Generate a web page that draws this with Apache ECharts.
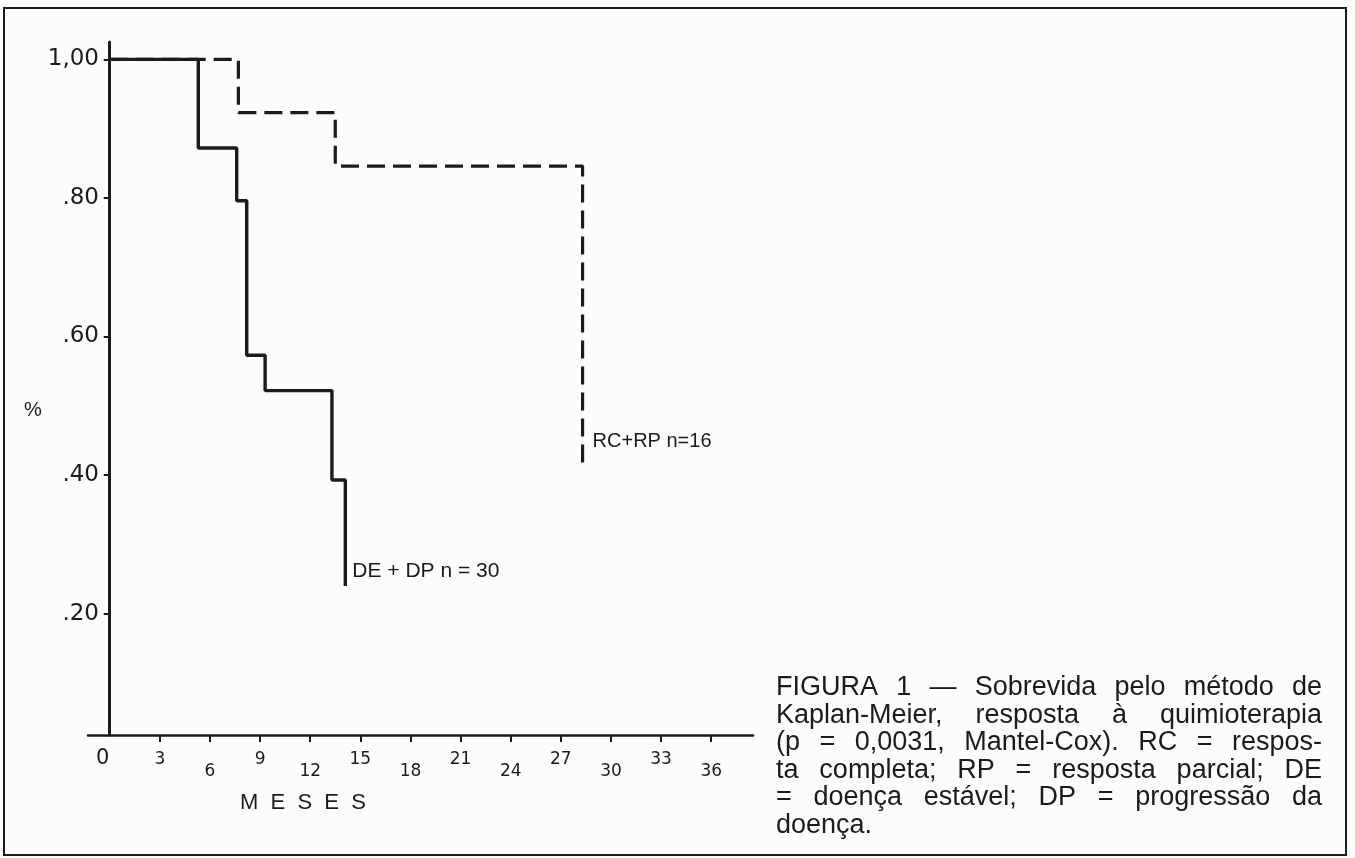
<!DOCTYPE html>
<html>
<head>
<meta charset="utf-8">
<script src="https://cdn.jsdelivr.net/npm/echarts@6/dist/echarts.min.js"></script>
<style>
html,body{margin:0;padding:0;background:#fcfcfa;}
#chart{width:1355px;height:858px;}
</style>
</head>
<body>
<div id="chart"></div>
<script>
// ---- data ----
const xTicks = [0, 3, 6, 9, 12, 15, 18, 21, 24, 27, 30, 33, 36];
const yTicks = [0.2, 0.4, 0.6, 0.8, 1.0];
const yTickLabels = ['.20', '.40', '.60', '.80', '1,00'];
const seriesNames = ['DE + DP n = 30', 'RC+RP n=16'];
const deDpTimes = [0, 5.3, 7.6, 8.2, 9.3, 13.3, 14.1];
const deDpSurv  = [1.00, 0.872, 0.796, 0.573, 0.522, 0.393, 0.240];
const rcRpTimes = [0, 7.7, 13.5, 28.3];
const rcRpSurv  = [1.00, 0.923, 0.846, 0.412];
const xAxisTitle = 'M  E  S  E  S';
const yAxisTitle = '%';
const captionLines = [
  'FIGURA 1 — Sobrevida pelo método de',
  'Kaplan-Meier, resposta à quimioterapia',
  '(p = 0,0031, Mantel-Cox). RC = respos-',
  'ta completa; RP = resposta parcial; DE',
  '= doença estável; DP = progressão da',
  'doença.'
];

const INK = '#1b1b1b';
const FONT = '"Liberation Sans", Arial, sans-serif';
const FONT_AX = '"DejaVu Sans", sans-serif';

function pairs(xs, ys) { return xs.map((x, i) => [x, ys[i]]); }

// ---- justified caption ----
function captionGraphics() {
  const out = [];
  const fs = 27, left = 776, right = 1322, top = 688, lh = 27.5;
  const ctx = document.createElement('canvas').getContext('2d');
  ctx.font = fs + 'px ' + FONT;
  const W = right - left;
  captionLines.forEach((line, i) => {
    const words = line.split(' ');
    const ws = words.map(w => ctx.measureText(w).width);
    const sum = ws.reduce((a, b) => a + b, 0);
    const last = i === captionLines.length - 1;
    const gap = (!last && words.length > 1) ? (W - sum) / (words.length - 1) : ctx.measureText(' ').width;
    let x = left;
    words.forEach((w, k) => {
      out.push({
        type: 'text', x: x, y: top + i * lh, z: 10,
        style: { text: w, fontSize: fs, fontFamily: FONT, fill: INK,
                 align: 'left', textAlign: 'left', verticalAlign: 'middle', textVerticalAlign: 'middle' }
      });
      x += ws[k] + gap;
    });
  });
  return out;
}

const chart = echarts.init(document.getElementById('chart'), null, { renderer: 'canvas' });

const option = {
  animation: false,
  backgroundColor: '#fcfcfa',
  grid: { left: 88, top: 42, width: 665, height: 693, containLabel: false },
  xAxis: {
    type: 'value', min: -1.3, max: 38.5,
    splitLine: { show: false },
    axisLine: { show: true, onZero: true, lineStyle: { color: INK, width: 2.5 } },
    axisTick: { show: true, customValues: xTicks.slice(1), length: 7, lineStyle: { color: INK, width: 2 } },
    axisLabel: {
      show: true, customValues: xTicks, margin: 16, color: INK, fontFamily: FONT_AX,
      formatter: function (v) {
        const i = xTicks.findIndex(t => Math.abs(t - v) < 1e-6);
        if (i === 0) return '{z|' + v + '}';
        return (i % 2 === 1 ? '{hi|' : '{lo|') + v + '}';
      },
      rich: {
        z: { fontSize: 21, fontFamily: FONT_AX, color: INK, padding: [-3, 14, 0, 0] },
        hi: { fontSize: 17, fontFamily: FONT_AX, color: INK },
        lo: { fontSize: 17, fontFamily: FONT_AX, color: INK, padding: [12, 0, 0, 0] }
      }
    }
  },
  yAxis: {
    type: 'value', min: 0.025, max: 1.025,
    splitLine: { show: false },
    axisLine: { show: true, onZero: true, lineStyle: { color: INK, width: 3 } },
    axisTick: { show: true, customValues: yTicks, length: 6, lineStyle: { color: INK, width: 2 } },
    axisLabel: {
      show: true, customValues: yTicks, margin: -11, color: INK, fontSize: 23, fontFamily: FONT_AX,
      formatter: function (v) {
        const i = yTicks.findIndex(t => Math.abs(t - v) < 1e-6);
        return i >= 0 ? yTickLabels[i] : '';
      }
    }
  },
  series: [
    {
      name: seriesNames[1], type: 'line', step: 'end', showSymbol: false, symbol: 'none', z: 2,
      data: pairs(rcRpTimes, rcRpSurv),
      lineStyle: { color: INK, width: 3.2, type: [18, 8], cap: 'butt' },
      markPoint: {
        symbol: 'circle', symbolSize: 0, silent: true,
        data: [{ coord: [rcRpTimes[rcRpTimes.length - 1], rcRpSurv[rcRpSurv.length - 1]] }],
        label: { show: true, position: 'right', distance: 5, offset: [5, -25], formatter: seriesNames[1],
                 color: INK, fontSize: 20, fontFamily: FONT }
      }
    },
    {
      name: seriesNames[0], type: 'line', step: 'end', showSymbol: false, symbol: 'none', z: 3,
      data: pairs(deDpTimes, deDpSurv),
      lineStyle: { color: INK, width: 3.4 },
      markPoint: {
        symbol: 'circle', symbolSize: 0, silent: true,
        data: [{ coord: [deDpTimes[deDpTimes.length - 1], deDpSurv[deDpSurv.length - 1]] }],
        label: { show: true, position: 'right', distance: 5, offset: [2, -15], formatter: seriesNames[0],
                 color: INK, fontSize: 21, fontFamily: FONT }
      }
    }
  ],
  graphic: [
    { type: 'rect', z: 0, shape: { x: 4, y: 8, width: 1342, height: 847 },
      style: { fill: 'none', stroke: INK, lineWidth: 2 } },
    { type: 'text', x: 33, y: 410, z: 10,
      style: { text: yAxisTitle, fontSize: 20, fontFamily: FONT, fill: INK,
               align: 'center', textAlign: 'center', verticalAlign: 'middle', textVerticalAlign: 'middle' } },
    { type: 'text', x: 240, y: 803, z: 10,
      style: { text: xAxisTitle, fontSize: 22, fontFamily: FONT, fill: INK,
               align: 'left', textAlign: 'left', verticalAlign: 'middle', textVerticalAlign: 'middle' } }
  ].concat(captionGraphics())
};

chart.setOption(option);
</script>
</body>
</html>
